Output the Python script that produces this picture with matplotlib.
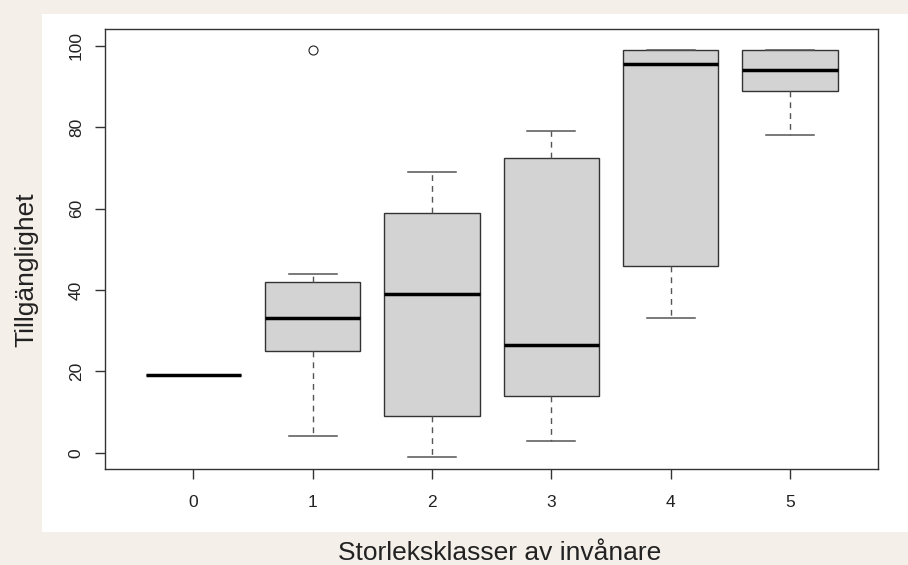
import matplotlib
matplotlib.use("Agg")
import matplotlib.pyplot as plt
from matplotlib.patches import Rectangle

# ---- data ----
categories = ["0", "1", "2", "3", "4", "5"]
whisker_low = [19, 4, -1, 3, 33, 78]
q1 = [19, 25, 9, 14, 46, 89]
medians = [19, 33, 39, 26.5, 95.5, 94]
q3 = [19, 42, 59, 72.5, 99, 99]
whisker_high = [19, 44, 69, 79, 99, 99]
outliers = [[], [99], [], [], [], []]
y_ticks = [0, 20, 40, 60, 80, 100]
x_label = "Storleksklasser av invånare"
y_label = "Tillgänglighet"

plt.rcParams['font.family'] = ['Liberation Sans', 'DejaVu Sans']

W, H = 908, 565
fig = plt.figure(figsize=(W / 100, H / 100), dpi=100)
fig.patch.set_facecolor('#f4efe9')
# white panel
fig.patches.append(Rectangle((42 / W, 1 - 532 / H), 1 - 42 / W, (532 - 14) / H,
                             transform=fig.transFigure, facecolor='white',
                             edgecolor='none', zorder=-10))

ax = fig.add_axes([105.3 / W, 1 - 469.3 / H, (878.3 - 105.3) / W, (469.3 - 29.3) / H])
ax.set_zorder(5)
ax.set_facecolor('white')

stats = []
for i, c in enumerate(categories):
    stats.append(dict(label=c, whislo=whisker_low[i], q1=q1[i], med=medians[i],
                      q3=q3[i], whishi=whisker_high[i], fliers=outliers[i]))

positions = list(range(len(categories)))
ax.bxp(stats, positions=positions, widths=0.8, capwidths=0.4, patch_artist=True,
       boxprops=dict(facecolor='#d3d3d3', edgecolor='#333333', linewidth=1.0),
       medianprops=dict(color='black', linewidth=2.5, solid_capstyle='butt'),
       whiskerprops=dict(color='#555555', linewidth=1.0, linestyle=(0, (4.2, 3.6))),
       capprops=dict(color='#555555', linewidth=1.1),
       flierprops=dict(marker='o', markerfacecolor='none', markeredgecolor='#222222',
                       markersize=6.5, markeredgewidth=0.8))

ax.set_xlim(-0.738, 5.74)
ax.set_ylim(-4.08, 104.1)
ax.set_yticks(y_ticks)
ax.set_yticklabels([str(t) for t in y_ticks])
ax.set_xticks(positions)
ax.set_xticklabels(categories)

for s in ax.spines.values():
    s.set_color('#333333')
    s.set_linewidth(1.0)

ax.tick_params(axis='both', direction='out', length=7.5, width=1.0, color='#333333',
               labelsize=12.5, labelcolor='#222222')
ax.tick_params(axis='x', pad=11.0)
ax.tick_params(axis='y', pad=8.0, labelrotation=90)
for lbl in ax.get_yticklabels():
    lbl.set_va('center')

fig.text(500 / W, 1 - 559.5 / H, x_label, ha='center', va='baseline',
         fontsize=19, color='#222222')
fig.text(33 / W, 1 - 270 / H, y_label, ha='center', va='baseline', rotation=90,
         rotation_mode='anchor', fontsize=19, color='#222222')

fig.savefig('out.png', dpi=100, facecolor=fig.get_facecolor())
